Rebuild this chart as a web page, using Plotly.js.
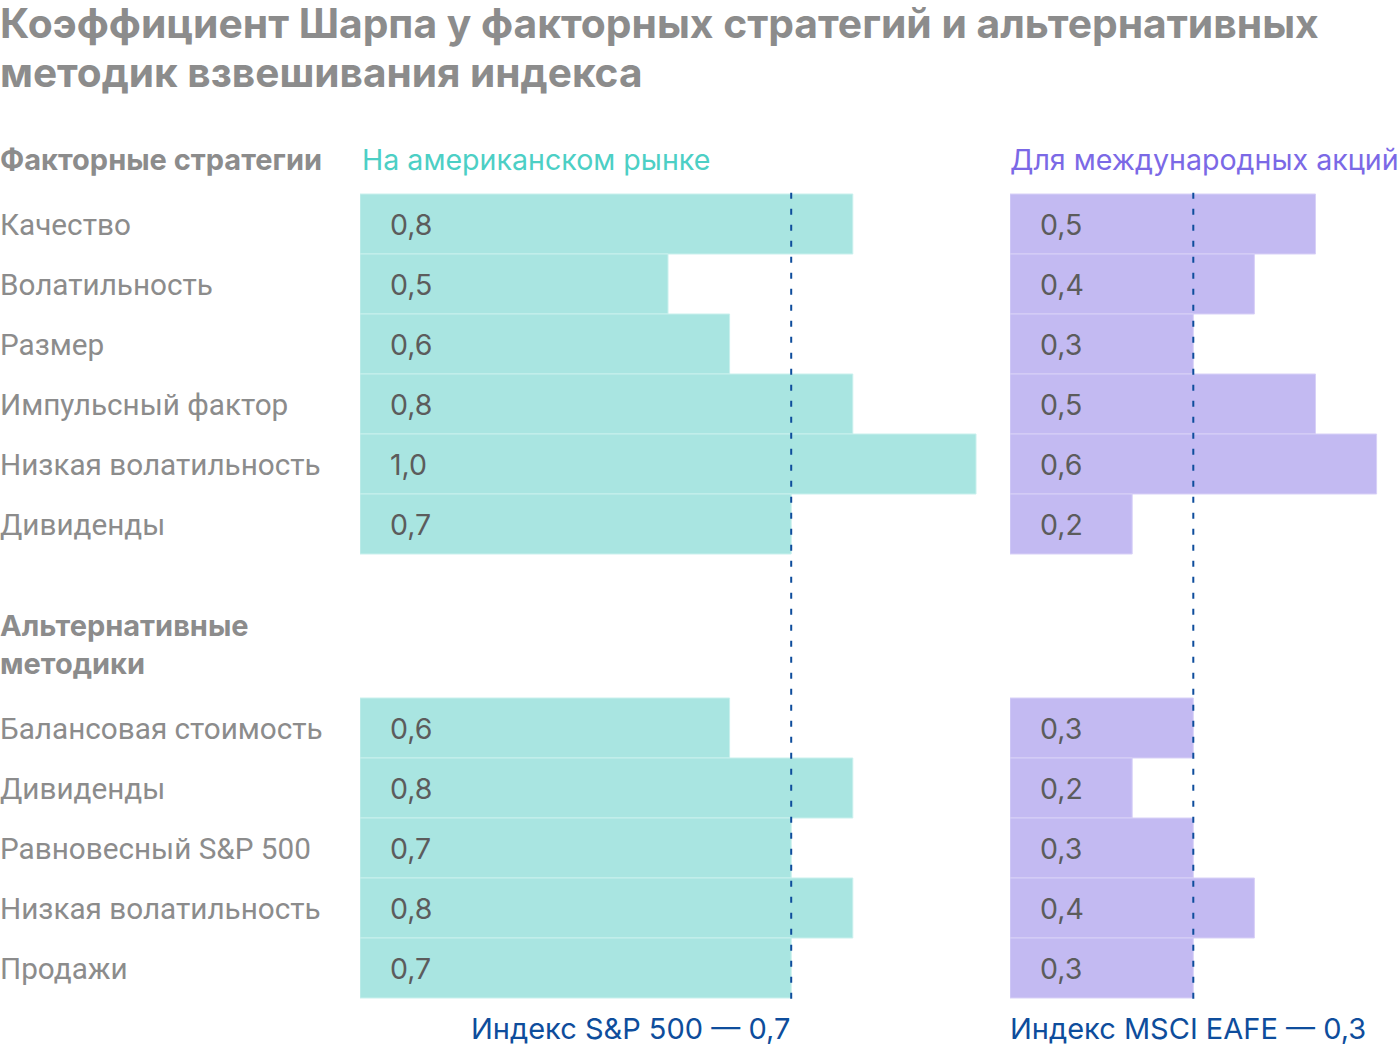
<!DOCTYPE html>
<html><head><meta charset="utf-8">
<script src="https://cdn.plot.ly/plotly-3.0.1.min.js"></script>
<style>html,body{margin:0;padding:0;background:#fff;}#chart{width:1400px;height:1048px;}</style>
</head><body><div id="chart"></div>
<script>
const titleLine1 = "Коэффициент Шарпа у факторных стратегий и альтернативных";
const titleLine2 = "методик взвешивания индекса";
const groupFactor = "Факторные стратегии";
const groupAlt = "Альтернативные<br>методики";
const seriesUS = "На американском рынке";
const seriesIntl = "Для международных акций";
const factorCats = ["Качество","Волатильность","Размер","Импульсный фактор","Низкая волатильность","Дивиденды"];
const altCats = ["Балансовая стоимость","Дивиденды","Равновесный S&P 500","Низкая волатильность","Продажи"];
const factorUS = [0.8, 0.5, 0.6, 0.8, 1.0, 0.7];
const factorIntl = [0.5, 0.4, 0.3, 0.5, 0.6, 0.2];
const altUS = [0.6, 0.8, 0.7, 0.8, 0.7];
const altIntl = [0.3, 0.2, 0.3, 0.4, 0.3];
const benchUS = 0.7, benchIntl = 0.3;
const benchUSLabel = "Индекс S&P 500 — 0,7";
const benchIntlLabel = "Индекс MSCI EAFE — 0,3";

const fmt = v => v.toFixed(1).replace('.', ',');
const altOffset = 8.4;
const cats = factorCats.concat(altCats);
const pos = factorCats.map((_, i) => i).concat(altCats.map((_, i) => i + altOffset));
const us = factorUS.concat(altUS);
const intl = factorIntl.concat(altIntl);

const ROB = "Roboto, 'Noto Sans', sans-serif";
const INT = "Inter, 'Noto Sans', sans-serif";
const traces = [
  {type:'bar', orientation:'h', x:us, y:pos, width:1, xaxis:'x', yaxis:'y',
   marker:{color:'#a9e5e1', line:{color:'#c9f0ed', width:1}}, hoverinfo:'none'},
  {type:'bar', orientation:'h', x:intl, y:pos, width:1, xaxis:'x2', yaxis:'y',
   marker:{color:'#c3baf2', line:{color:'#d8d1f7', width:1}}, hoverinfo:'none'}
];

const ann = [];
const A = o => ann.push(Object.assign({showarrow:false, borderpad:0, yanchor:'middle'}, o));
cats.forEach((c, i) => {
  A({xref:'paper', yref:'y', x:0, y:pos[i], xshift:-1, xanchor:'left', text:c, font:{family:ROB, size:29.7, color:'#8c8c8c'}});
  A({xref:'x', yref:'y', x:0, y:pos[i], xshift:29, xanchor:'left', text:fmt(us[i]), font:{family:INT, size:28.5, color:'#5c5c5c'}});
  A({xref:'x2', yref:'y', x:0, y:pos[i], xshift:29, xanchor:'left', text:fmt(intl[i]), font:{family:INT, size:28.5, color:'#5c5c5c'}});
});
A({xref:'paper', yref:'y', x:0, y:-1.067, xshift:-1, xanchor:'left', text:'<b>'+groupFactor+'</b>', font:{family:INT, size:29, color:'#8c8c8c'}});
A({xref:'paper', yref:'y', x:0, y:7.0, xshift:-1, xanchor:'left', align:'left', text:'<b>'+groupAlt+'</b>', font:{family:INT, size:29, color:'#8c8c8c'}});
A({xref:'x', yref:'y', x:0, y:-1.067, xshift:1, xanchor:'left', text:seriesUS, font:{family:INT, size:28.6, color:'#4ccfc5'}});
A({xref:'x2', yref:'y', x:0, y:-1.067, xshift:-1, xanchor:'left', text:seriesIntl, font:{family:INT, size:28.6, color:'#7b69e6'}});
A({xref:'x', yref:'y', x:benchUS, y:13.4, xanchor:'right', text:benchUSLabel, font:{family:INT, size:29, color:'#0e4d9c'}});
A({xref:'x2', yref:'y', x:0, y:13.4, xshift:-1, xanchor:'left', text:benchIntlLabel, font:{family:INT, size:29, color:'#0e4d9c'}});
A({xref:'paper', yref:'y', x:0, y:-3.35, xshift:-1, xanchor:'left', text:'<b>'+titleLine1+'</b>', font:{family:INT, size:40.8, color:'#8c8c8c'}});
A({xref:'paper', yref:'y', x:0, y:-2.52, xshift:-1, xanchor:'left', text:'<b>'+titleLine2+'</b>', font:{family:INT, size:40.6, color:'#8c8c8c'}});

const shapes = [
  {type:'line', xref:'x', yref:'y', x0:benchUS, x1:benchUS, y0:-0.52, y1:12.93,
   line:{color:'#0e4d9c', width:2, dash:'6px,10px'}},
  {type:'line', xref:'x2', yref:'y', x0:benchIntl, x1:benchIntl, y0:-0.52, y1:12.93,
   line:{color:'#0e4d9c', width:2, dash:'6px,10px'}}
];

const layout = {
  width:1400, height:1048, margin:{l:0, r:0, t:0, b:0},
  paper_bgcolor:'#ffffff', plot_bgcolor:'rgba(0,0,0,0)', showlegend:false, bargap:0,
  xaxis:{domain:[360/1400, 1000/1400], range:[0, 640/616], visible:false, fixedrange:true},
  xaxis2:{domain:[1010/1400, 1], range:[0, 390/611], visible:false, fixedrange:true},
  yaxis:{domain:[0,1], range:[(1048-224)/60, -224/60], visible:false, fixedrange:true},
  annotations:ann, shapes:shapes
};
Plotly.newPlot('chart', traces, layout, {staticPlot:true, displayModeBar:false});
</script></body></html>
